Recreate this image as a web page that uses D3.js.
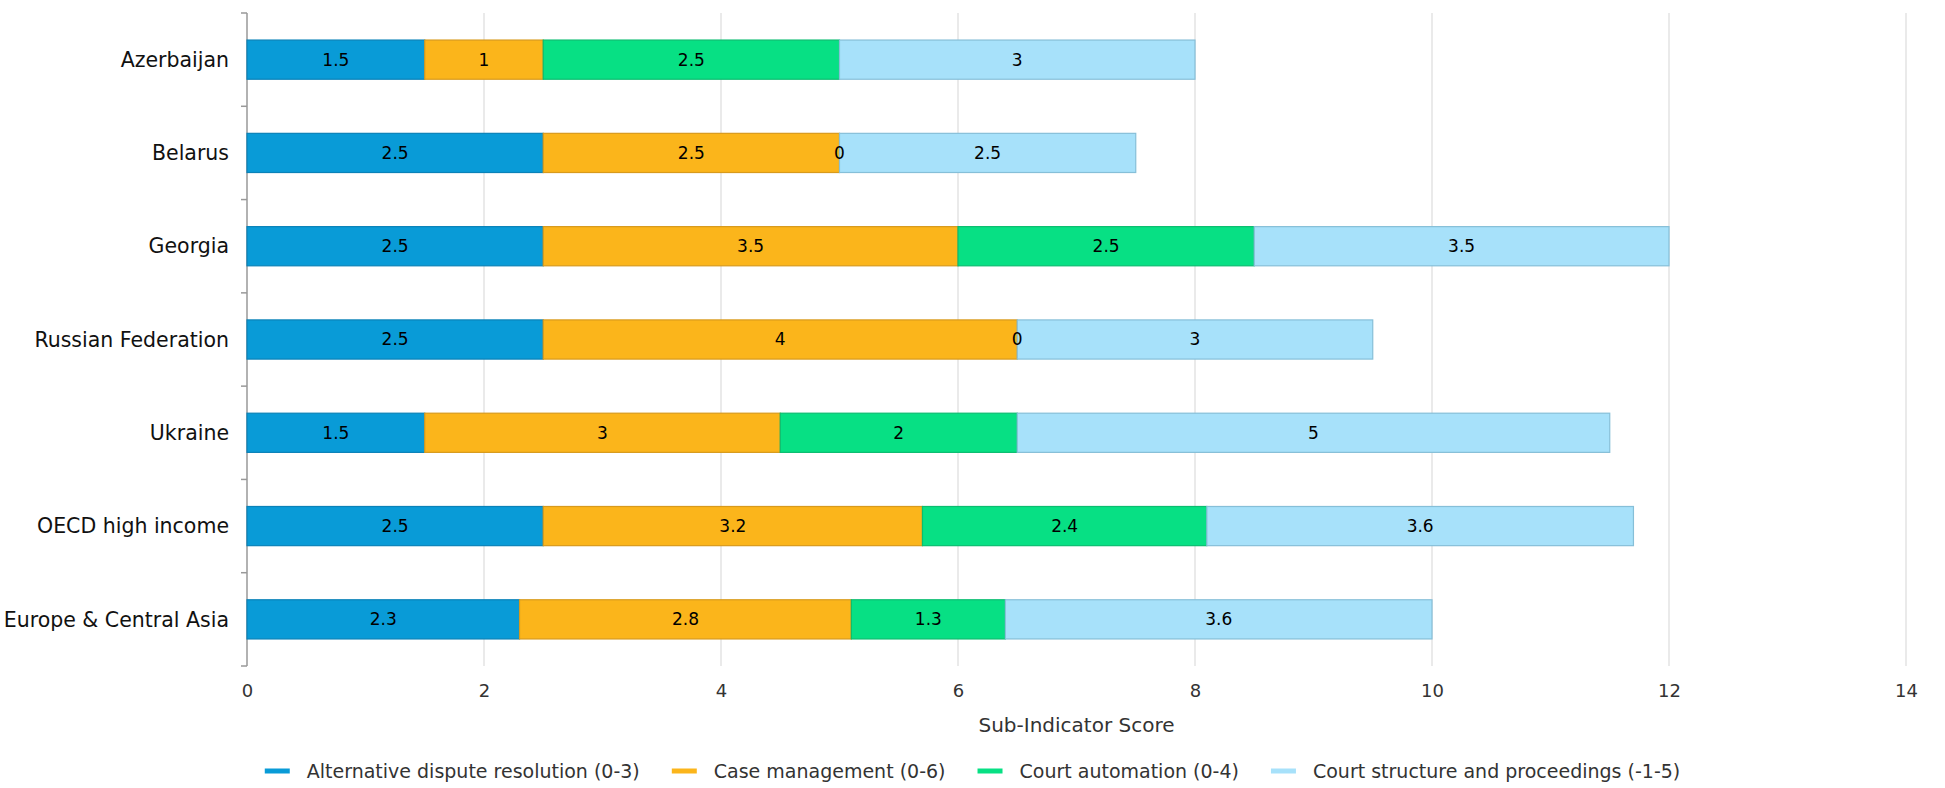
<!DOCTYPE html>
<html>
<head>
<meta charset="utf-8">
<script src="https://cdn.jsdelivr.net/npm/d3@7"></script>
<style>
  body { margin: 0; background: #fff; }
  svg { display: block; font-family: "DejaVu Sans", sans-serif; }
</style>
</head>
<body>
<svg id="chart" width="1945" height="788"></svg>
<script>
// categories, top to bottom
const countries = ["Azerbaijan", "Belarus", "Georgia", "Russian Federation", "Ukraine", "OECD high income", "Europe & Central Asia"];

const seriesNames = ["Alternative dispute resolution (0-3)", "Case management (0-6)", "Court automation (0-4)", "Court structure and proceedings (-1-5)"];

const disputeResolution = [1.5, 2.5, 2.5, 2.5, 1.5, 2.5, 2.3];
const caseManagement = [1, 2.5, 3.5, 4, 3, 3.2, 2.8];
const courtAutomation = [2.5, 0, 2.5, 0, 2, 2.4, 1.3];
const courtStructure = [3, 2.5, 3.5, 3, 5, 3.6, 3.6];

const xTicks = [0, 2, 4, 6, 8, 10, 12, 14];

const fills = ["#099bd7", "#fbb51b", "#07e084", "#a7e1fa"];
const strokes = ["#0a82b8", "#d89a1c", "#0bbd70", "#86bfd8"];

const width = 1945;
const height = 788;
const margin = {top: 13, right: 39, bottom: 122, left: 247};

const svg = d3.select("#chart");

// rows for the stack
const rows = countries.map((c, i) => ({
    country: c,
    s0: disputeResolution[i],
    s1: caseManagement[i],
    s2: courtAutomation[i],
    s3: courtStructure[i]
}));
const keys = ["s0", "s1", "s2", "s3"];
const stacked = d3.stack().keys(keys)(rows);

const x = d3.scaleLinear()
    .domain([0, 14])
    .range([margin.left, width - margin.right]);

const y = d3.scaleBand()
    .domain(countries)
    .range([margin.top, height - margin.bottom])
    .paddingInner(0.58)
    .paddingOuter(0.29);

// grid lines
svg.append("g")
    .selectAll("line")
    .data(xTicks.filter(t => t > 0))
    .enter()
    .append("line")
    .attr("x1", d => x(d))
    .attr("x2", d => x(d))
    .attr("y1", margin.top)
    .attr("y2", height - margin.bottom)
    .attr("stroke", "#e3e3e3")
    .attr("stroke-width", 1.5);

// x axis (labels only)
const xAxis = svg.append("g")
    .attr("transform", `translate(0,${height - margin.bottom})`)
    .call(d3.axisBottom(x).tickValues(xTicks).tickSize(0).tickPadding(18));
xAxis.select(".domain").remove();
xAxis.selectAll("text")
    .attr("font-size", 18)
    .attr("font-family", "DejaVu Sans")
    .attr("fill", "#333");

svg.append("text")
    .attr("x", (x(0) + x(14)) / 2)
    .attr("y", 732)
    .attr("text-anchor", "middle")
    .attr("font-size", 20)
    .attr("fill", "#333")
    .text("Sub-Indicator Score");

// y axis line and ticks at band boundaries
const step = y.step();
const boundaries = d3.range(countries.length + 1).map(i => margin.top + i * step);
svg.append("line")
    .attr("x1", x(0)).attr("x2", x(0))
    .attr("y1", margin.top).attr("y2", height - margin.bottom)
    .attr("stroke", "#999")
    .attr("stroke-width", 1.5);
svg.append("g")
    .selectAll("line")
    .data(boundaries)
    .enter()
    .append("line")
    .attr("x1", x(0) - 6)
    .attr("x2", x(0))
    .attr("y1", d => d)
    .attr("y2", d => d)
    .attr("stroke", "#999")
    .attr("stroke-width", 1.5);

svg.append("g")
    .selectAll("text")
    .data(countries)
    .enter()
    .append("text")
    .attr("x", 229)
    .attr("y", d => y(d) + y.bandwidth() / 2)
    .attr("dy", "0.35em")
    .attr("text-anchor", "end")
    .attr("font-size", 20.5)
    .attr("fill", "#111")
    .text(d => d);

// bars
const layers = svg.append("g")
    .selectAll("g")
    .data(stacked)
    .enter()
    .append("g")
    .attr("fill", (d, i) => fills[i])
    .attr("stroke", (d, i) => strokes[i]);

layers.selectAll("rect")
    .data(d => d)
    .enter()
    .append("rect")
    .attr("x", d => x(d[0]))
    .attr("y", d => y(d.data.country))
    .attr("width", d => x(d[1]) - x(d[0]))
    .attr("height", y.bandwidth())
    .attr("stroke-width", 1.2);

// value labels
const labels = svg.append("g");
stacked.forEach(layer => {
    labels.selectAll(null)
        .data(layer)
        .enter()
        .append("text")
        .attr("x", d => x((d[0] + d[1]) / 2))
        .attr("y", d => y(d.data.country) + y.bandwidth() / 2)
        .attr("dy", "0.35em")
        .attr("text-anchor", "middle")
        .attr("font-size", 17)
        .attr("fill", "#000")
        .text(d => d.data[layer.key]);
});

// legend, centred on the whole picture
const legend = svg.append("g").attr("transform", "translate(0,771)");
const items = legend.selectAll("g")
    .data(seriesNames)
    .enter()
    .append("g");
items.append("line")
    .attr("x1", 0).attr("x2", 25)
    .attr("y1", 0).attr("y2", 0)
    .attr("stroke", (d, i) => fills[i])
    .attr("stroke-width", 5);
items.append("text")
    .attr("x", 42)
    .attr("dy", "0.35em")
    .attr("font-size", 19)
    .attr("fill", "#333")
    .text(d => d);

let offset = 0;
const positions = [];
items.each(function() {
    positions.push(offset);
    const w = d3.select(this).select("text").node().getComputedTextLength();
    offset += 42 + w + 32;
});
const totalW = offset - 32;
const startX = width / 2 - totalW / 2;
items.attr("transform", (d, i) => `translate(${startX + positions[i]},0)`);
</script>
</body>
</html>
